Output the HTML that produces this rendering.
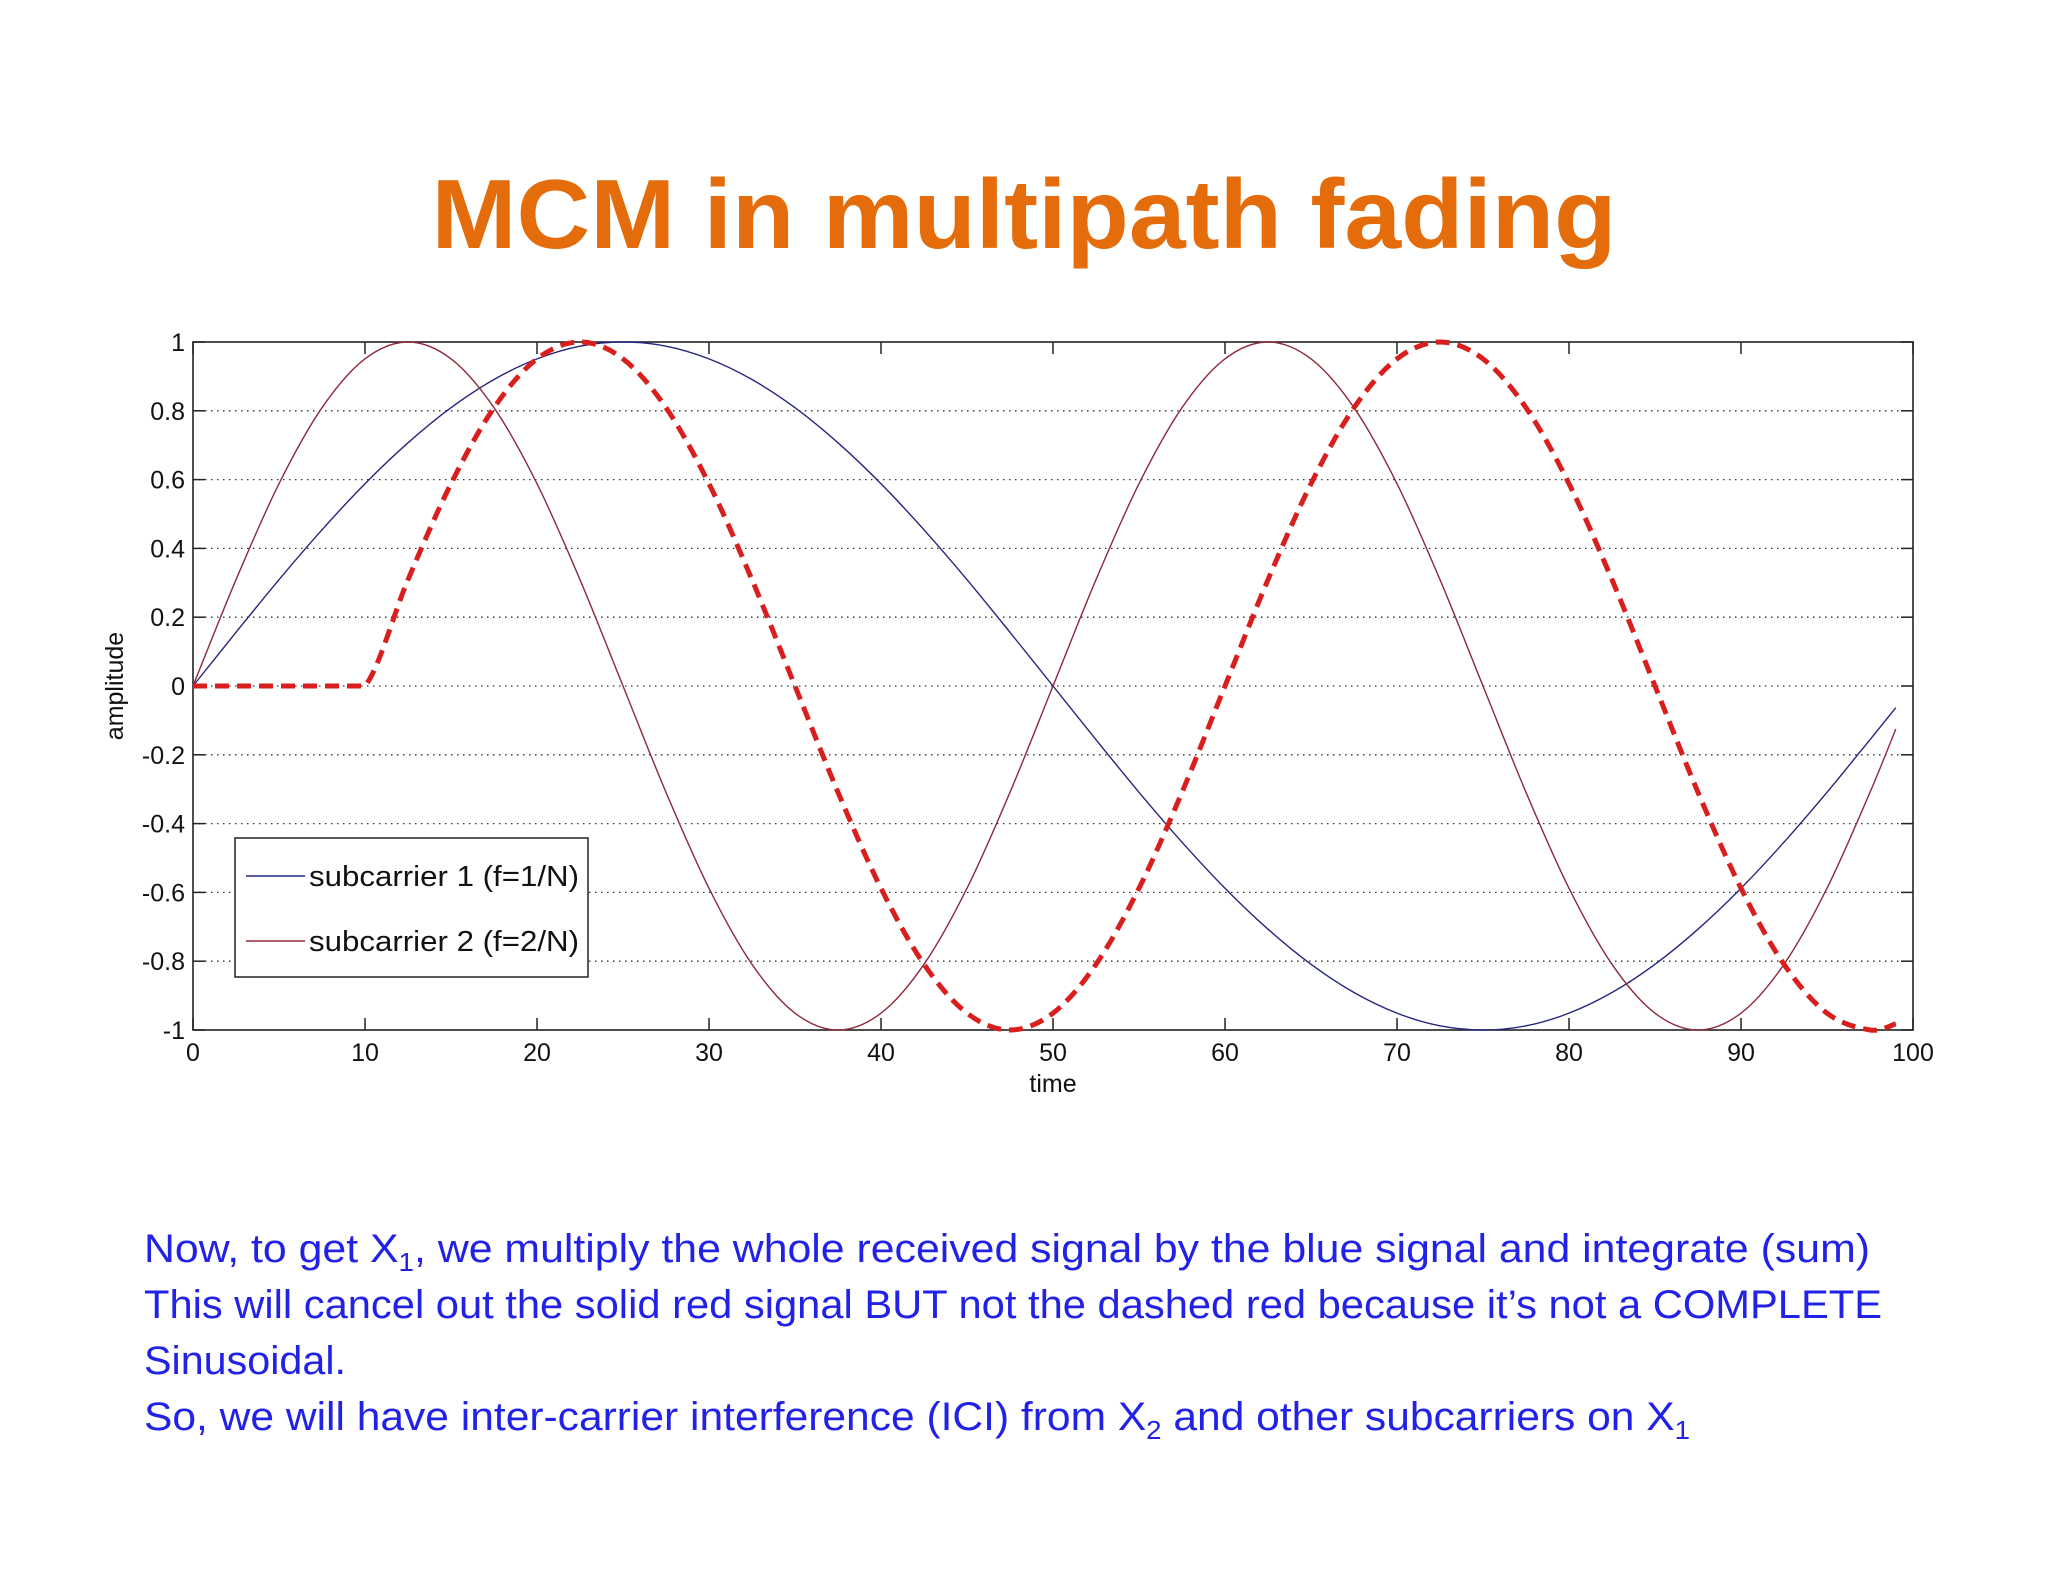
<!DOCTYPE html>
<html><head><meta charset="utf-8"><style>
html,body{margin:0;padding:0;background:#fff;}
svg{display:block;}
</style></head><body>
<svg id="chart" width="2048" height="1582" viewBox="0 0 2048 1582" font-family="'Liberation Sans', sans-serif">
<text x="1024" y="248" text-anchor="middle" font-size="98" font-weight="bold" fill="#e46c0a" textLength="1185" lengthAdjust="spacingAndGlyphs">MCM in multipath fading</text>
<g id="plot"></g>
<g fill="#2222e6" font-size="40">
<text x="144" y="1262" textLength="1726" lengthAdjust="spacingAndGlyphs">Now, to get X<tspan font-size="26" dy="9">1</tspan><tspan dy="-9">, we multiply the whole received signal by the blue signal and integrate (sum)</tspan></text>
<text x="144" y="1318" textLength="1738" lengthAdjust="spacingAndGlyphs">This will cancel out the solid red signal BUT not the dashed red because it’s not a COMPLETE</text>
<text x="144" y="1374" textLength="202" lengthAdjust="spacingAndGlyphs">Sinusoidal.</text>
<text x="144" y="1430" textLength="1546" lengthAdjust="spacingAndGlyphs">So, we will have inter-carrier interference (ICI) from X<tspan font-size="26" dy="9">2</tspan><tspan dy="-9"> and other subcarriers on X</tspan><tspan font-size="26" dy="9">1</tspan></text>
</g>
</svg>
<script>
const tValues = [0,2.5,5,7.5,10,12.5,15,17.5,20,22.5,25,27.5,30,32.5,35,37.5,40,42.5,45,47.5,50,52.5,55,57.5,60,62.5,65,67.5,70,72.5,75,77.5,80,82.5,85,87.5,90,92.5,95,97.5,99];
const sub1 = [0,.156,.309,.454,.588,.707,.809,.891,.951,.988,1,.988,.951,.891,.809,.707,.588,.454,.309,.156,0,-.156,-.309,-.454,-.588,-.707,-.809,-.891,-.951,-.988,-1,-.988,-.951,-.891,-.809,-.707,-.588,-.454,-.309,-.156,-.063];
const sub2 = [0,.309,.588,.809,.951,1,.951,.809,.588,.309,0,-.309,-.588,-.809,-.951,-1,-.951,-.809,-.588,-.309,0,.309,.588,.809,.951,1,.951,.809,.588,.309,0,-.309,-.588,-.809,-.951,-1,-.951,-.809,-.588,-.309,-.125];
const sub2Delayed = [0,0,0,0,0,.309,.588,.809,.951,1,.951,.809,.588,.309,0,-.309,-.588,-.809,-.951,-1,-.951,-.809,-.588,-.309,0,.309,.588,.809,.951,1,.951,.809,.588,.309,0,-.309,-.588,-.809,-.951,-1,-.982];
const xTicks = [0,10,20,30,40,50,60,70,80,90,100];
const yTicks = [-1,-0.8,-0.6,-0.4,-0.2,0,0.2,0.4,0.6,0.8,1];
const yTickLabels = ['-1','-0.8','-0.6','-0.4','-0.2','0','0.2','0.4','0.6','0.8','1'];

const L=193,R=1913,T=342,B=1030;
const sx=v=>L+(v-0)/(100-0)*(R-L);
const sy=v=>B-(v+1)/2*(B-T);
const NS='http://www.w3.org/2000/svg';
const plot=document.getElementById('plot');
function mk(tag,attrs,parent){const e=document.createElementNS(NS,tag);for(const k in attrs)e.setAttribute(k,attrs[k]);(parent||plot).appendChild(e);return e;}

yTicks.forEach((v,i)=>{
  if(v>-1&&v<1){
    const g=mk('line',{x1:L,x2:R,y1:sy(v),y2:sy(v),stroke:'#333','stroke-width':1.3,'stroke-dasharray':'1.5 4.5'});
    
    
  }
  const t1=mk('line',{x1:L,x2:L+12,y1:sy(v),y2:sy(v),stroke:'#222','stroke-width':1.5});
  
  
  const t2=mk('line',{x1:R-12,x2:R,y1:sy(v),y2:sy(v),stroke:'#222','stroke-width':1.5});
  
  
  const lb=mk('text',{x:L-8,y:sy(v)+9,'text-anchor':'end','font-size':25,fill:'#111'});
  lb.textContent=yTickLabels[i];
  
  
});
xTicks.forEach(v=>{
  const t1=mk('line',{x1:sx(v),x2:sx(v),y1:B,y2:B-12,stroke:'#222','stroke-width':1.5});
  
  
  const t2=mk('line',{x1:sx(v),x2:sx(v),y1:T,y2:T+12,stroke:'#222','stroke-width':1.5});
  
  
  const lb=mk('text',{x:sx(v),y:B+31,'text-anchor':'middle','font-size':25,fill:'#111'});
  lb.textContent=String(v);
  
  
});
const frame=mk('rect',{x:L,y:T,width:R-L,height:B-T,fill:'none',stroke:'#222','stroke-width':1.6});


const xl=mk('text',{x:(L+R)/2,y:B+62,'text-anchor':'middle','font-size':25,fill:'#111'});
xl.textContent='time';


const yl=mk('text',{x:0,y:0,'text-anchor':'middle','font-size':25,fill:'#111',transform:`translate(123,${(T+B)/2}) rotate(-90)`});
yl.textContent='amplitude';



function pathFor(ts,vs,linearUntil){
  const p=ts.map((t,i)=>[sx(t),sy(vs[i])]);
  let d=`M${p[0][0]},${p[0][1]}`;
  for(let i=0;i<p.length-1;i++){
    if(linearUntil!==undefined && i<linearUntil){d+=` L${p[i+1][0]},${p[i+1][1]}`;continue;}
    const p0=p[Math.max(i-1,0)],p1=p[i],p2=p[i+1],p3=p[Math.min(i+2,p.length-1)];
    const c1=[p1[0]+(p2[0]-p0[0])/6,p1[1]+(p2[1]-p0[1])/6];
    const c2=[p2[0]-(p3[0]-p1[0])/6,p2[1]-(p3[1]-p1[1])/6];
    d+=` C${c1[0]},${c1[1]} ${c2[0]},${c2[1]} ${p2[0]},${p2[1]}`;
  }
  return d;
}
const s1=mk('path',{d:pathFor(tValues,sub1),fill:'none',stroke:'#262680','stroke-width':1.4});


const s2=mk('path',{d:pathFor(tValues,sub2),fill:'none',stroke:'#8e2a3a','stroke-width':1.4});


const s3=mk('path',{d:pathFor(tValues,sub2Delayed,4),fill:'none',stroke:'#d91e1e','stroke-width':5,'stroke-dasharray':'14 8'});



const lg=mk('g',{});


mk('rect',{x:235,y:838,width:353,height:139,fill:'#fff',stroke:'#222','stroke-width':1.5},lg);
mk('line',{x1:246,x2:305,y1:876,y2:876,stroke:'#262680','stroke-width':1.4},lg);
const le1=mk('text',{x:309,y:886,'font-size':29,fill:'#111',textLength:270,lengthAdjust:'spacingAndGlyphs'},lg);
le1.textContent='subcarrier 1 (f=1/N)';


mk('line',{x1:246,x2:305,y1:941,y2:941,stroke:'#8e2a3a','stroke-width':1.4},lg);
const le2=mk('text',{x:309,y:951,'font-size':29,fill:'#111',textLength:270,lengthAdjust:'spacingAndGlyphs'},lg);
le2.textContent='subcarrier 2 (f=2/N)';


</script>
</body></html>
